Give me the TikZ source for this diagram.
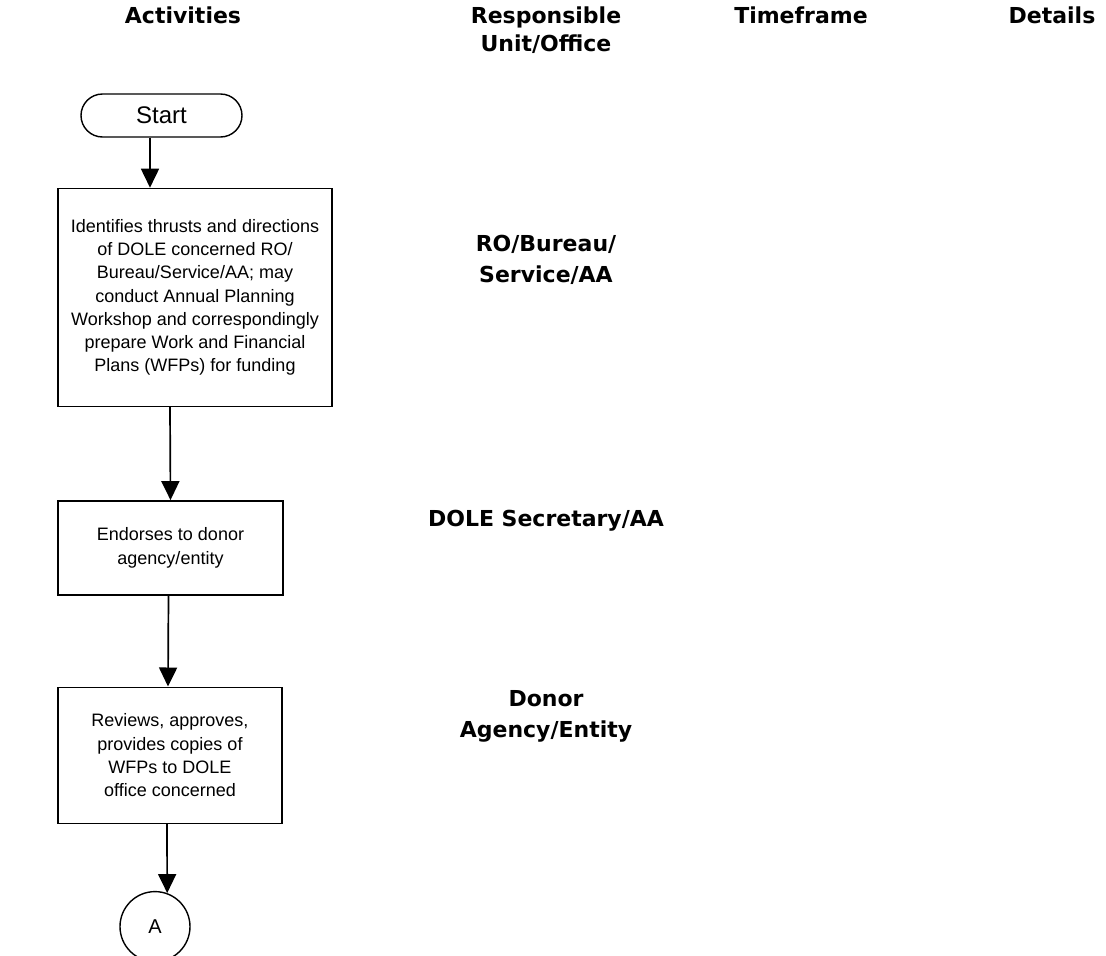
\documentclass[tikz,border=0pt]{standalone}
\usepackage{fontspec}
\setmainfont{Liberation Sans}
\newfontfamily\headfont{DejaVu Sans}
\usepackage{tikz}
\usetikzlibrary{arrows.meta, positioning, shapes.geometric}
\tikzset{
	actbox/.style={draw, line width=1.4pt, align=center, inner sep=4pt,
		font=\fontsize{18}{23.2}\selectfont},
	term/.style={draw, line width=1.4pt, rounded corners=21.5pt,
		minimum width=161pt, minimum height=43pt, inner sep=0pt,
		font=\fontsize{24}{28}\selectfont},
	conn/.style={draw, circle, line width=1.4pt, minimum size=70pt,
		inner sep=0pt, font=\fontsize{20}{24}\selectfont},
	hdr/.style={align=center, inner sep=0pt, font=\headfont\bfseries\fontsize{22}{28}\selectfont},
	unit/.style={align=center, inner sep=0pt, font=\headfont\bfseries\fontsize{22}{31}\selectfont},
	arr/.style={-{Triangle[length=19pt, width=18pt]}, line width=1.7pt},
}

\begin{document}
\begin{tikzpicture}[x=1pt, y=-1pt]
	\useasboundingbox (0,0) rectangle (1106,956);

	% column headings
	\node[hdr, anchor=north] (hact) at (183,7) {Activities};
	\node[hdr, anchor=north] (hunit) at (546,7) {Responsible\\Unit/Office};
	\node[hdr, anchor=north] (htime) at (801,7) {Timeframe};
	\node[hdr, anchor=north] (hdet) at (1052,7) {Details};

	% activities
	\node[term] (start) at (161.5,115.5) {Start};
	\node[actbox, minimum width=274pt, minimum height=218pt,
		below=50pt of start, xshift=33.5pt] (plan)
	{Identifies thrusts and directions\\
	of DOLE concerned RO/\\
	Bureau/Service/AA; may\\
	conduct Annual Planning\\
	Workshop and correspondingly\\
	prepare Work and Financial\\
	Plans (WFPs) for funding};
	\node[actbox, minimum width=225pt, minimum height=94pt,
		below=93pt of plan.south west, anchor=north west] (endorse)
	{Endorses to donor\\agency/entity};
	\node[actbox, minimum width=224pt, minimum height=136pt,
		below=91pt of endorse.south west, anchor=north west] (review)
	{Reviews, approves,\\provides copies of\\WFPs to DOLE\\office concerned};
	\node[conn, below=67pt of review, xshift=-15pt] (conA) {A};

	% responsible units
	\node[unit] (uro) at (546,260) {RO/Bureau/\\Service/AA};
	\node[unit] (usec) at (546,521) {DOLE Secretary/AA};
	\node[unit] (udonor) at (546,716) {Donor\\Agency/Entity};

	\draw[arr] ([xshift=-11.5pt]start.south) -- ([xshift=-45pt]plan.north);
	\draw[arr] ([xshift=-25pt]plan.south) -- (endorse.north);
	\draw[arr] ([xshift=-2pt]endorse.south) -- ([xshift=-2pt]review.north);
	\draw[arr] ([xshift=-3pt]review.south) -- (conA.70);
\end{tikzpicture}
\end{document}
